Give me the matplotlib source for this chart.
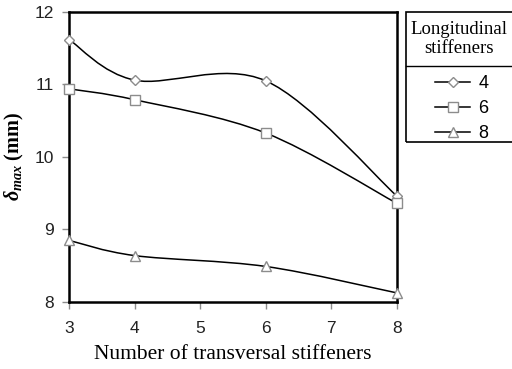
import numpy as np
import matplotlib.pyplot as plt
from matplotlib.path import Path
from matplotlib.patches import PathPatch, Rectangle
from matplotlib.lines import Line2D

# number of transversal stiffeners
transversal = [3, 4, 6, 8]
# max deflection (mm) for each number of longitudinal stiffeners
delta_4 = [11.62, 11.06, 11.05, 9.46]
delta_6 = [10.94, 10.79, 10.33, 9.36]
delta_8 = [8.85, 8.64, 8.49, 8.125]
series_labels = ['4', '6', '8']
markers = ['D', 's', '^']
marker_sizes = [5, 7.5, 7]

serif = ['Liberation Serif', 'DejaVu Serif']
sans = ['Liberation Sans', 'DejaVu Sans']

plt.rcParams['mathtext.fontset'] = 'custom'
plt.rcParams['mathtext.it'] = 'Liberation Serif:italic:bold'
plt.rcParams['mathtext.rm'] = 'Liberation Serif:bold'
plt.rcParams['mathtext.bf'] = 'Liberation Serif:bold'


def smooth_path(x, y):
    # Catmull-Rom style cubic bezier through the points (Excel "smoothed line")
    pts = np.column_stack([x, y]).astype(float)
    n = len(pts)
    verts = [pts[0]]
    codes = [Path.MOVETO]
    for i in range(n - 1):
        p0 = pts[max(i - 1, 0)]
        p1 = pts[i]
        p2 = pts[i + 1]
        p3 = pts[min(i + 2, n - 1)]
        c1 = p1 + (p2 - p0) / 6.0
        c2 = p2 - (p3 - p1) / 6.0
        verts += [c1, c2, p2]
        codes += [Path.CURVE4] * 3
    return Path(verts, codes)


fig = plt.figure(figsize=(5.12, 3.69), dpi=100)
ax = fig.add_axes([0.1348, 0.1816, 0.6406, 0.7859])

for ys, m, ms in zip([delta_4, delta_6, delta_8], markers, marker_sizes):
    ax.add_patch(PathPatch(smooth_path(transversal, ys), fill=False,
                           edgecolor='black', lw=1.1, zorder=2))
    ax.plot(transversal, ys, linestyle='none', marker=m, markersize=ms,
            markerfacecolor='white', markeredgecolor='#8c8c8c',
            markeredgewidth=1.0, zorder=3, clip_on=False)

ax.set_xlim(3, 8)
ax.set_ylim(8, 12)
ax.set_xticks([3, 4, 5, 6, 7, 8])
ax.set_yticks([8, 9, 10, 11, 12])
for s in ax.spines.values():
    s.set_color('black')
    s.set_linewidth(1.8)
ax.tick_params(direction='out', length=5, width=1, color='#8c8c8c',
               labelsize=12.5, labelcolor='#222222')
ax.tick_params(axis='y', pad=6)
ax.tick_params(axis='x', pad=9)
for lbl in ax.get_xticklabels() + ax.get_yticklabels():
    lbl.set_family(sans)

ax.set_xlabel('Number of transversal stiffeners', family=serif,
              fontsize=15.5, labelpad=6)
ax.set_ylabel(r'$\delta_{max}$ (mm)', family=serif,
              fontsize=14.5, fontweight='bold', labelpad=6)

# legend box on the right
fig.patches.append(Rectangle((406 / 512, 1 - 142 / 369), 0.3, (142 - 12) / 369,
                             transform=fig.transFigure, fill=False,
                             edgecolor='black', lw=1.2))
fig.lines.append(Line2D([406 / 512, 1.0], [1 - 66 / 369, 1 - 66 / 369],
                        transform=fig.transFigure, color='black', lw=1.0))
fig.text(459 / 512, 1 - 39 / 369, 'Longitudinal\nstiffeners', family=serif,
         fontsize=13.5, ha='center', va='center', linespacing=1.2)

handles = [Line2D([], [], color='black', lw=1.1, marker=m, markersize=ms,
                  markerfacecolor='white', markeredgecolor='#8c8c8c')
           for m, ms in zip(markers, marker_sizes)]
fig.legend(handles, series_labels, loc='upper left',
           bbox_to_anchor=(435 / 512, 1 - 75 / 369), frameon=False,
           borderpad=0, borderaxespad=0,
           handlelength=1.95, handletextpad=0.45, labelspacing=0.45,
           prop={'family': sans, 'size': 13})

fig.savefig('out.png', dpi=100)
